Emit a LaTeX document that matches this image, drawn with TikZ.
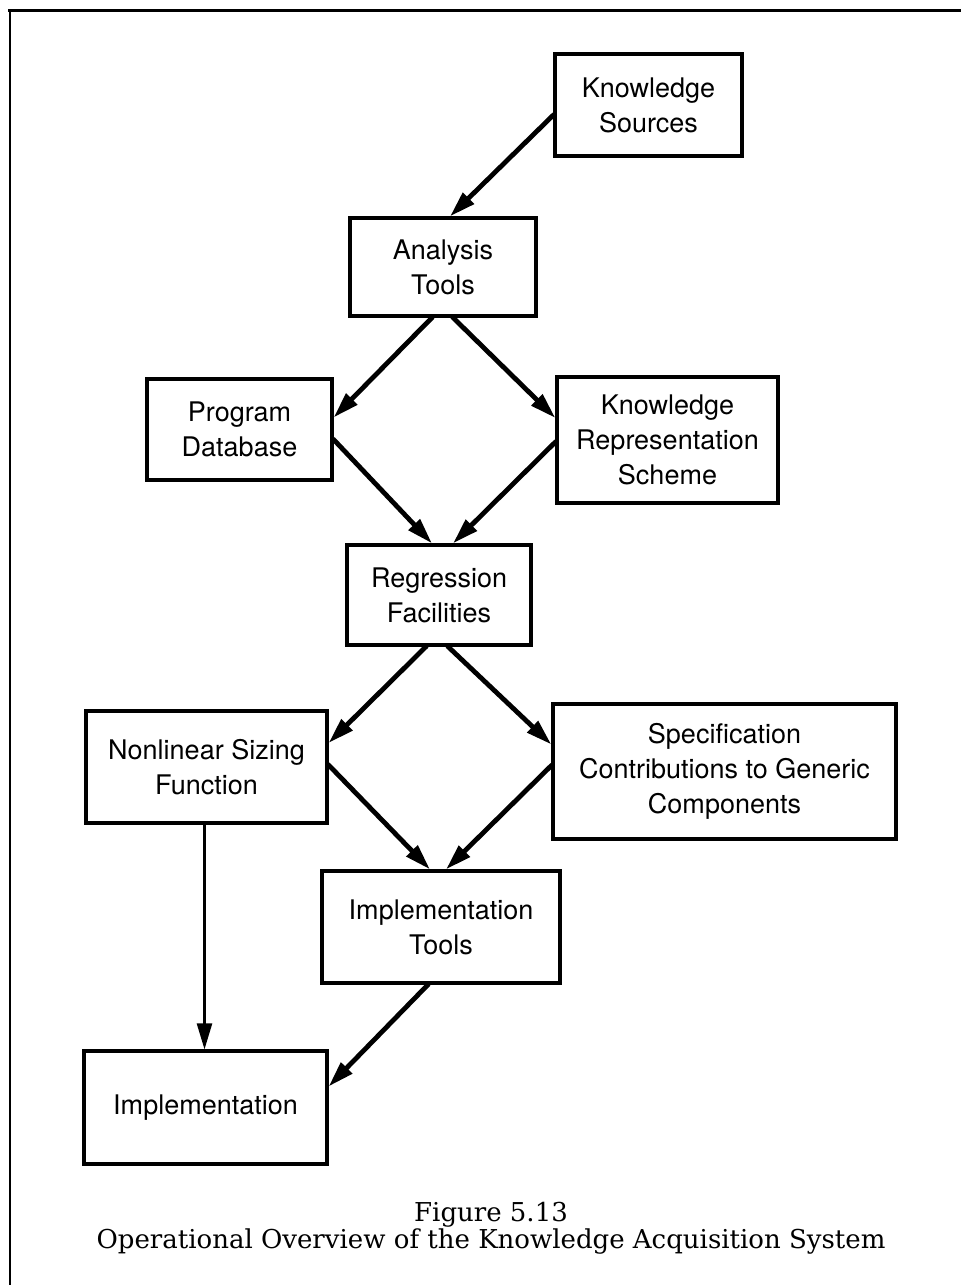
\documentclass[tikz,border=0pt]{standalone}
\usepackage{fontspec}
\setmainfont{TeX Gyre Heros}
\newfontfamily\capfont{DejaVu Serif}
\usetikzlibrary{arrows.meta}
\begin{document}
\begin{tikzpicture}[x=1pt, y=-1pt, >={Triangle[length=26pt,width=15pt]},
		box/.style={draw, line width=3.2pt, inner sep=0pt, align=center, font=\fontsize{27}{35}\selectfont},
		flow/.style={->, line width=4.8pt, shorten <=-1pt}]
		\useasboundingbox (0,0) rectangle (961,1285);
		\draw[line width=3pt] (8,10) -- (961,10);
		\draw[line width=2pt] (10,10) -- (10,1285);
		\node[box, minimum width=187pt, minimum height=102pt] (ks) at (648.5,105) {Knowledge\\Sources};
		\node[box, minimum width=186pt, minimum height=98pt] (at) at (443,267) {Analysis\\Tools};
		\node[box, minimum width=185pt, minimum height=101pt] (pd) at (239.5,429.5) {Program\\Database};
		\node[box, minimum width=221pt, minimum height=126pt] (krs) at (667.5,440) {Knowledge\\Representation\\Scheme};
		\node[box, minimum width=184pt, minimum height=100pt] (rf) at (439,595) {Regression\\Facilities};
		\node[box, minimum width=241pt, minimum height=112pt] (nsf) at (206.5,767) {Nonlinear Sizing\\Function};
		\node[box, minimum width=343pt, minimum height=135pt] (scg) at (724.5,771.5) {Specification\\Contributions to Generic\\Components};
		\node[box, minimum width=238pt, minimum height=112pt] (it) at (441,927) {Implementation\\Tools};
		\node[box, minimum width=243pt, minimum height=113pt] (impl) at (205.5,1107.5) {Implementation};
		\node[align=center, font=\capfont\fontsize{26}{25}\selectfont] (cap) at (491,1228) {Figure 5.13\\Operational Overview of the Knowledge Acquisition System};
		\draw[flow] ([yshift=-10pt]ks.west) -- ([xshift=7pt]at.north);
		\draw[flow] ([xshift=-11pt]at.south) -- ([yshift=12pt]pd.east);
		\draw[flow] ([xshift=10pt]at.south) -- ([yshift=22pt]krs.west);
		\draw[flow] ([yshift=-10pt]pd.east) -- ([xshift=-7pt]rf.north);
		\draw[flow] ([yshift=-2pt]krs.west) -- ([xshift=14pt]rf.north);
		\draw[flow] ([xshift=-13pt]rf.south) -- ([yshift=24pt]nsf.east);
		\draw[flow] ([xshift=9pt]rf.south) -- ([yshift=27pt]scg.west);
		\draw[flow] ([yshift=2pt]nsf.east) -- ([xshift=-11pt]it.north);
		\draw[flow] ([yshift=6pt]scg.west) -- ([xshift=5pt]it.north);
		\draw[->, line width=2.4pt] ([xshift=-2pt]nsf.south) -- ([xshift=-2pt]nsf.south |- impl.north);
		\draw[flow] ([xshift=-13pt]it.south) -- ([yshift=21pt]impl.east);
	\end{tikzpicture}
\end{document}
